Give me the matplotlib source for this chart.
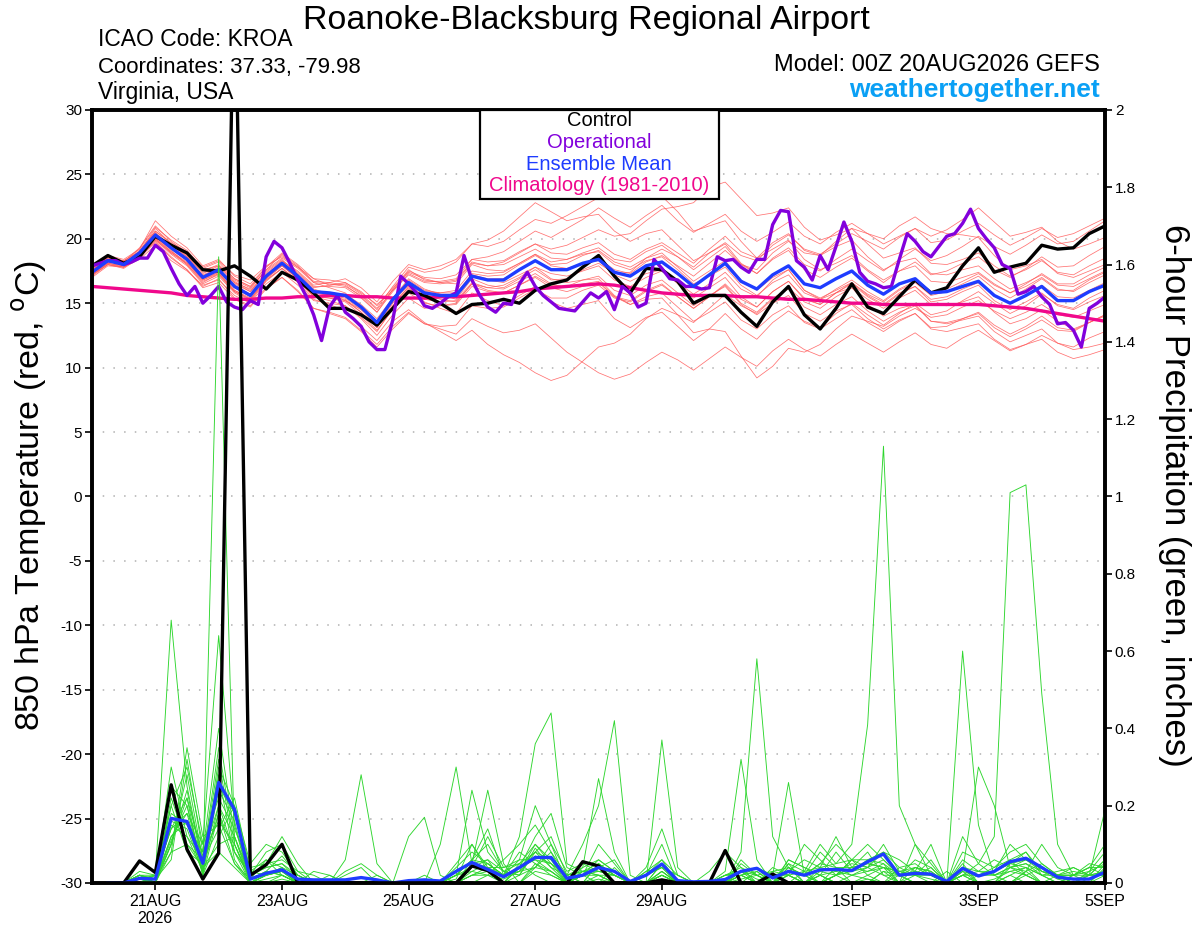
import numpy as np
import pandas as pd
import matplotlib
matplotlib.use("Agg")
import matplotlib.pyplot as plt
from matplotlib.patches import Rectangle

plt.rcParams['font.family'] = ['Liberation Sans', 'DejaVu Sans']
plt.rcParams['axes.unicode_minus'] = False

# time axes: 6-hourly for ensemble, 3-hourly for operational run
times = pd.date_range("2026-08-20 00:00", periods=65, freq="6h")
op_times = pd.date_range("2026-08-20 00:00", periods=129, freq="3h")

# 850 hPa temperature (C)
control_t = [17.9, 18.7, 18.1, 18.6, 20.2, 19.5, 18.9, 17.6, 17.5, 17.9,
             17.1, 16.1, 17.4, 16.8, 15.8, 14.6, 14.6, 14.1, 13.3, 14.6,
             15.9, 15.6, 15.0, 14.2, 14.9, 15.0, 15.3, 15.0, 16.0, 16.5,
             16.8, 17.8, 18.7, 17.1, 15.8, 17.7, 17.6, 16.7, 15.0, 15.6,
             15.6, 14.3, 13.2, 15.1, 16.3, 14.1, 13.0, 14.6, 16.5, 14.7,
             14.2, 15.5, 16.8, 15.8, 16.2, 17.9, 19.3, 17.4, 17.8, 18.1,
             19.5, 19.2, 19.3, 20.4, 21.0]

mean_t = [17.4, 18.3, 18.0, 18.9, 20.3, 19.3, 18.4, 17.0, 17.6, 16.3,
          15.6, 17.1, 18.1, 17.1, 15.9, 15.8, 15.6, 14.7, 13.5, 15.3,
          16.6, 15.8, 15.6, 15.6, 17.1, 16.8, 16.8, 17.6, 18.3, 17.6,
          17.6, 18.1, 18.4, 17.4, 17.1, 17.9, 18.2, 17.3, 16.3, 17.2,
          18.1, 16.7, 16.1, 17.2, 17.9, 16.5, 16.2, 16.9, 17.5, 16.4,
          15.7, 16.5, 16.9, 15.8, 15.9, 16.3, 16.7, 15.6, 15.0, 15.6,
          16.3, 15.2, 15.2, 15.9, 16.4]

clim_t = [16.3, 16.2, 16.1, 16.0, 15.9, 15.8, 15.6, 15.5, 15.4,
          15.3, 15.3, 15.4, 15.4, 15.5, 15.5, 15.6, 15.6,
          15.5, 15.5, 15.4, 15.4, 15.4, 15.5, 15.5, 15.6,
          15.7, 15.8, 15.9, 16.1, 16.2, 16.3, 16.4, 16.5,
          16.4, 16.2, 16.0, 15.8, 15.7, 15.6, 15.6, 15.6,
          15.5, 15.5, 15.4, 15.3, 15.3, 15.2, 15.1, 15.0,
          15.0, 14.9, 14.9, 14.9, 14.9, 14.9, 14.9, 14.9,
          14.8, 14.7, 14.6, 14.4, 14.2, 14.0, 13.8, 13.6]

oper_t = [17.9, 18.1, 18.3, 18.3, 18.0, 18.2, 18.5, 18.5, 19.5, 19.0,
          17.7, 16.5, 15.6, 16.3, 15.0, 15.6, 16.3, 15.1, 14.7, 14.5,
          15.2, 14.9, 18.6, 19.8, 19.3, 18.1, 16.8, 15.6, 14.1, 12.1,
          14.7, 15.6, 14.3, 13.8, 13.2, 12.0, 11.4, 11.4, 13.7, 17.1,
          16.5, 15.8, 14.8, 14.6, 15.0, 15.5, 15.8, 18.7, 16.8, 15.6,
          14.7, 14.3, 15.0, 14.9, 16.5, 17.4, 16.3, 15.6, 15.1, 14.6,
          14.5, 14.4, 15.1, 15.8, 15.4, 15.9, 14.5, 16.3, 15.8, 14.7,
          15.0, 18.4, 17.7, 16.9, 16.8, 16.3, 16.3, 16.1, 16.2, 18.6,
          18.3, 18.4, 17.8, 17.4, 18.4, 18.4, 21.1, 22.2, 22.1, 18.3,
          17.8, 16.8, 18.7, 17.6, 19.4, 21.3, 19.8, 17.4, 16.7, 16.5,
          16.2, 16.3, 18.4, 20.4, 19.8, 19.0, 18.6, 19.4, 20.2, 20.4,
          21.2, 22.3, 20.8, 20.0, 19.3, 18.0, 17.7, 15.7, 15.9, 16.3,
          15.5, 14.9, 13.4, 13.5, 12.9, 11.6, 14.6, 15.0, 15.5]

members_t = [
    "17.6 18.5 18.2 19.3 21.0 19.8 18.9 17.8 18.3 17.2 16.8 17.9 18.6 17.8 16.9 16.4 16.6 15.8 14.9 16.0 "
    "17.5 17.0 16.9 17.2 18.4 18.6 19.0 19.8 20.6 20.1 20.8 21.5 22.4 21.6 20.9 21.8 22.6 21.4 20.5 21.2 "
    "21.9 20.6 19.8 20.5 21.3 20.2 19.6 20.5 21.2 20.4 19.6 20.2 20.8 19.7 19.9 20.6 21.2 20.3 19.5 20.1 "
    "20.8 20.1 20.4 21.0 21.6",
    "17.2 18.0 17.7 18.5 19.8 18.6 17.6 16.3 16.9 15.4 14.8 16.2 17.0 16.0 14.6 14.3 13.9 12.9 11.8 13.2 "
    "14.3 13.4 13.0 12.6 13.8 13.2 12.7 12.9 13.4 12.3 11.2 10.4 9.6 9.1 9.5 10.4 11.2 10.6 9.8 10.7 "
    "11.6 10.8 10.1 11.3 12.2 11.4 10.9 11.8 12.6 11.9 11.2 12.0 12.7 11.8 11.5 12.3 12.9 12.1 11.3 11.8 "
    "12.5 11.9 11.6 12.3 12.8",
    "17.8 18.6 18.3 19.0 20.8 19.6 18.8 17.6 17.9 16.8 16.2 17.6 18.8 17.9 16.6 16.2 15.8 14.6 13.2 15.0 "
    "16.2 15.1 14.6 14.2 15.8 15.2 14.8 15.6 16.3 15.1 14.6 14.9 15.2 13.8 13.1 13.9 14.3 13.2 12.1 13.0 "
    "14.2 13.0 12.2 13.5 14.4 13.6 13.1 14.2 15.0 14.1 13.3 14.2 15.0 14.1 14.4 15.2 15.9 15.0 14.2 14.8 "
    "15.7 14.9 14.6 15.4 16.0",
    "17.5 18.2 18.1 18.7 20.1 19.0 18.1 16.9 17.4 16.5 15.9 17.4 18.3 17.5 16.4 16.6 16.9 16.2 15.1 16.7 "
    "18.0 17.6 17.9 18.4 19.6 19.4 19.8 20.7 21.5 21.2 21.8 22.5 23.2 23.8 24.5 24.2 23.3 22.1 20.6 21.0 "
    "21.4 19.8 18.5 19.2 19.9 18.4 17.6 18.1 18.7 17.6 16.8 17.5 17.9 16.7 16.6 17.0 17.4 16.5 15.8 16.3 "
    "17.0 16.1 15.9 16.6 17.2",
    "17.0 17.9 17.8 18.4 19.5 18.3 17.5 16.4 16.8 15.6 15.0 16.5 17.4 16.4 15.2 15.0 14.8 13.8 12.5 14.1 "
    "15.4 14.6 14.8 15.0 16.5 16.2 16.4 17.0 17.8 17.3 17.1 17.5 17.9 16.8 16.3 17.0 17.5 16.6 15.7 16.5 "
    "17.4 16.1 15.5 16.8 17.6 16.0 15.4 16.0 16.6 15.6 14.9 15.8 16.3 15.1 15.3 15.9 16.4 15.2 14.5 15.1 "
    "15.8 14.8 14.5 15.1 15.6",
    "17.7 18.4 18.0 19.1 20.6 19.7 19.0 17.5 18.0 16.9 16.3 17.5 18.4 17.2 16.1 15.7 15.2 14.5 13.6 15.4 "
    "16.9 16.1 15.7 15.3 16.9 16.4 16.2 16.9 17.6 16.8 16.9 17.6 18.1 17.3 17.4 18.5 19.2 18.6 17.8 18.9 "
    "19.7 18.7 18.3 19.5 20.3 19.2 18.8 19.6 20.4 19.8 19.2 20.1 20.8 20.2 20.7 21.5 22.4 21.3 20.2 20.5 "
    "20.9 19.8 19.2 19.6 20.1",
    "17.3 18.1 17.9 18.8 20.2 19.1 18.0 16.6 17.3 15.9 15.2 16.8 17.7 16.6 15.3 14.9 14.4 13.2 12.1 13.6 "
    "14.5 13.5 12.8 12.1 12.9 11.8 11.0 10.4 9.6 9.0 9.4 10.5 11.6 11.9 12.6 13.8 14.6 14.1 13.5 14.6 "
    "15.7 14.8 14.2 15.3 16.2 15.1 14.6 15.5 16.2 15.3 14.6 15.4 16.0 14.9 14.8 15.1 15.5 14.3 13.4 13.8 "
    "14.5 13.6 13.0 13.5 14.0",
    "17.6 18.4 18.2 18.9 20.4 19.5 18.7 17.3 17.9 16.7 16.0 17.3 18.2 17.3 16.2 16.4 16.5 15.7 14.6 16.3 "
    "17.8 17.4 17.6 18.2 19.6 19.9 20.6 21.7 22.8 22.1 21.4 21.7 21.9 20.6 19.8 20.4 20.7 19.5 18.3 18.9 "
    "19.6 18.1 17.3 18.4 19.1 17.6 17.0 17.8 18.5 17.5 16.6 17.5 18.2 17.2 17.5 18.1 18.6 17.6 17.0 17.7 "
    "18.6 17.8 17.9 18.7 19.4",
    "17.4 18.2 18.0 18.8 20.1 19.2 18.5 17.2 17.7 16.4 15.7 17.0 18.0 16.9 15.6 15.5 15.3 14.3 13.1 14.8 "
    "16.3 15.6 15.5 15.7 17.3 17.1 17.2 18.0 18.7 18.0 18.1 18.7 19.1 18.2 17.8 18.5 18.9 17.8 16.7 17.5 "
    "18.3 16.8 16.0 17.0 17.6 16.0 15.3 15.8 16.2 14.9 14.0 14.6 14.9 13.6 13.4 13.7 14.0 12.8 12.0 12.5 "
    "13.0 11.9 11.4 11.6 11.9",
    "17.1 18.0 17.8 18.6 19.9 18.8 17.9 16.5 17.1 15.8 15.1 16.7 17.7 16.8 15.5 15.2 14.8 13.9 12.8 14.6 "
    "16.0 15.3 15.4 15.7 17.2 16.8 16.6 17.2 17.8 16.9 16.6 16.8 16.9 15.6 14.9 15.3 15.4 14.1 12.7 13.0 "
    "12.8 10.9 9.2 10.1 11.5 11.2 11.8 13.0 14.0 13.6 13.2 14.0 14.6 13.9 14.1 14.7 15.2 14.4 13.8 14.3 "
    "14.9 14.1 13.9 14.4 14.9",
    "17.9 18.7 18.4 19.2 21.4 20.2 19.3 17.9 18.4 17.1 16.5 17.8 18.9 18.0 16.9 16.8 16.6 15.9 14.8 16.2 "
    "17.4 16.9 16.6 16.8 18.2 17.9 18.2 18.9 19.6 19.2 19.5 20.1 20.7 20.2 20.4 21.4 22.3 22.5 22.8 24.0 "
    "24.4 23.1 21.8 22.0 22.4 20.9 19.9 20.3 20.8 19.6 18.5 18.9 19.3 18.1 18.0 18.4 18.9 17.9 17.1 17.6 "
    "18.3 17.4 17.2 17.9 18.5",
    "17.3 18.3 18.1 18.9 20.0 18.9 18.0 16.7 17.2 15.9 15.3 16.9 17.9 16.9 15.8 15.8 15.5 14.6 13.4 15.1 "
    "16.4 15.7 15.3 15.1 16.5 16.0 15.8 16.4 17.0 16.2 15.9 16.3 16.6 15.5 15.2 16.0 16.5 15.5 14.6 15.5 "
    "16.4 15.0 14.3 15.4 16.1 14.7 14.1 14.9 15.5 14.4 13.6 14.3 14.8 13.6 13.5 13.8 14.2 13.1 12.4 13.0 "
    "13.7 12.9 12.8 13.5 14.1",
    "17.5 18.4 18.1 19.0 20.5 19.4 18.6 17.4 17.6 16.6 16.1 17.6 18.5 17.7 16.6 16.5 16.3 15.6 14.5 16.0 "
    "17.2 16.6 16.5 16.7 18.1 17.9 18.0 18.6 19.2 18.5 18.4 18.8 19.0 18.0 17.6 18.3 18.6 17.6 16.5 17.1 "
    "17.8 16.4 15.6 16.6 17.2 15.8 15.3 16.1 16.8 15.9 15.2 16.1 16.7 15.8 16.1 16.7 17.3 16.4 15.8 16.5 "
    "17.3 16.5 16.5 17.2 17.8",
    "17.8 18.5 18.3 19.0 20.6 19.6 18.6 17.1 17.8 16.6 15.9 17.2 18.0 17.0 15.8 15.6 15.4 14.5 13.3 15.2 "
    "16.7 15.9 15.8 16.0 17.5 17.3 17.4 18.1 18.8 18.2 18.4 18.9 19.3 18.4 18.2 19.0 19.5 18.6 17.6 18.5 "
    "19.4 18.0 17.3 18.5 19.3 18.0 17.5 18.4 19.2 18.3 17.5 18.4 19.2 18.3 18.7 19.4 20.2 19.4 18.8 19.5 "
    "20.3 19.6 19.8 20.6 21.4",
    "17.2 18.1 17.9 18.7 20.0 19.0 18.2 16.8 17.4 16.0 15.4 16.9 17.9 16.9 15.6 15.4 15.1 14.1 12.9 14.5 "
    "15.8 15.0 14.8 14.9 16.3 15.9 15.8 16.4 17.1 16.4 16.3 16.8 17.1 16.0 15.6 16.4 16.8 15.8 14.8 15.6 "
    "16.3 14.9 14.1 15.0 15.6 14.2 13.6 14.4 14.9 13.8 13.0 13.7 14.2 13.0 12.8 13.1 13.4 12.2 11.4 11.8 "
    "12.2 11.2 10.7 11.0 11.4",
    "17.6 18.3 18.0 18.8 20.3 19.3 18.5 17.1 17.6 16.2 15.5 17.1 18.3 17.4 16.3 16.3 16.2 15.4 14.3 15.9 "
    "17.3 16.7 16.7 16.9 18.4 18.2 18.3 19.0 19.6 18.9 18.8 19.3 19.7 18.8 18.4 19.2 19.7 18.9 18.1 19.2 "
    "20.2 19.0 18.5 19.7 20.4 19.1 18.7 19.4 19.9 18.6 17.6 18.2 18.5 17.3 17.2 17.6 17.9 16.9 16.1 16.6 "
    "17.2 16.4 16.3 16.9 17.5",
    "17.3 18.1 17.8 18.6 19.7 18.5 17.6 16.2 16.6 15.3 14.7 16.1 17.0 15.9 14.6 14.2 13.8 12.8 11.6 13.0 "
    "14.2 13.4 13.2 13.3 14.8 14.6 14.7 15.4 16.1 15.4 15.4 16.0 16.4 15.4 15.1 15.9 16.4 15.5 14.6 15.5 "
    "16.5 15.3 14.7 15.9 16.7 15.4 14.9 15.8 16.5 15.5 14.8 15.7 16.3 15.3 15.5 16.1 16.6 15.6 15.0 15.6 "
    "16.4 15.5 15.4 16.0 16.6",
    "17.7 18.6 18.2 19.2 20.9 19.9 19.1 17.7 18.2 16.9 16.3 17.8 18.7 17.8 16.7 16.6 16.4 15.5 14.3 16.1 "
    "17.6 16.8 16.6 16.5 18.0 17.6 17.5 18.1 18.8 17.9 17.7 18.1 18.3 17.2 16.7 17.3 17.6 16.5 15.4 16.2 "
    "17.0 15.5 14.7 15.9 16.7 15.3 14.9 15.8 16.6 15.7 15.1 16.0 16.6 15.6 15.9 16.5 17.1 16.1 15.4 16.1 "
    "16.9 16.0 16.0 16.8 17.4",
    "17.5 18.4 18.1 18.9 20.3 19.2 18.3 16.9 17.5 16.2 15.6 17.2 18.1 17.1 15.9 15.8 15.7 14.9 13.8 15.4 "
    "16.8 16.0 15.8 15.8 17.2 16.9 16.9 17.6 18.3 17.6 17.6 18.1 18.5 17.6 17.3 18.2 18.7 17.9 17.1 18.1 "
    "19.1 18.0 17.6 18.9 19.8 18.9 18.7 19.8 20.8 20.4 20.0 21.0 21.7 20.8 20.4 20.3 20.1 18.7 17.6 17.9 "
    "18.4 17.3 17.0 17.5 18.0",
    "17.2 18.0 17.8 18.6 19.9 18.9 18.1 16.8 17.3 16.0 15.3 16.8 17.7 16.7 15.5 15.4 15.2 14.3 13.1 14.8 "
    "16.1 15.3 15.1 15.2 16.6 16.2 16.1 16.7 17.3 16.5 16.2 16.5 16.7 15.5 14.9 15.5 15.8 14.7 13.6 14.3 "
    "15.1 13.7 13.0 14.1 14.8 13.5 13.0 13.8 14.5 13.5 12.8 13.6 14.2 13.1 13.2 13.8 14.3 13.3 12.6 13.2 "
    "14.0 13.1 12.9 13.5 14.1",
]

# 6-hour precipitation (inches), from 06Z 20AUG onward
control_p = [0, 0, 0.057, 0.027, 0.254, 0.087, 0.01, 0.077,
             2.45, 0.02, 0.047, 0.10, 0, 0, 0, 0,
             0, 0, 0, 0, 0, 0, 0, 0.044,
             0.032, 0, 0, 0, 0, 0, 0.055, 0.044,
             0, 0, 0, 0.008, 0, 0, 0, 0.084,
             0, 0, 0.023, 0, 0, 0, 0, 0,
             0, 0, 0, 0, 0, 0, 0, 0,
             0, 0, 0, 0, 0, 0, 0, 0]

mean_p = [0, 0, 0.012, 0.01, 0.167, 0.159, 0.051, 0.26,
          0.19, 0.01, 0.025, 0.034, 0.01, 0.008, 0.008, 0.008,
          0.014, 0.008, 0, 0.006, 0.008, 0.005, 0.03, 0.053,
          0.035, 0.016, 0.04, 0.066, 0.066, 0.012, 0.02, 0.04,
          0.03, 0.004, 0.02, 0.049, 0.006, 0.003, 0.004, 0.009,
          0.03, 0.038, 0.013, 0.03, 0.02, 0.034, 0.035, 0.032,
          0.055, 0.075, 0.02, 0.025, 0.023, 0.004, 0.038, 0.018,
          0.03, 0.055, 0.064, 0.04, 0.015, 0.01, 0.01, 0.028]

members_p = [
    "0 0 0.02 0.01 0.12 0.18 0.03 1.62 0.10 0 0.02 0.03 0 0 0 0 0 0 0 0 0 0 0 0.02 "
    "0.04 0 0 0.05 0.02 0 0 0.01 0 0 0 0.02 0 0 0 0 0.03 0.01 0 0 0 0.02 0 0 "
    "0.01 0 0 0 0 0 0.03 0 0 0 0.02 0 0 0 0 0",
    "0 0 0.01 0.02 0.68 0.25 0.05 0.18 0.08 0.02 0.05 0.06 0.03 0 0 0 0 0 0 0 0 0 0.05 0.10 "
    "0.03 0 0.02 0.08 0.12 0.02 0 0.05 0.02 0 0 0.05 0 0 0 0 0 0 0 0.05 0.03 0 0.02 0.06 "
    "0.02 0.04 0 0.02 0.01 0 0.02 0 0.01 0.03 0.04 0.02 0 0 0 0.04",
    "0 0 0 0.01 0.20 0.30 0.10 0.64 0.15 0 0 0.01 0 0 0 0 0 0 0 0 0 0 0 0 "
    "0 0 0.05 0.02 0 0 0.03 0.02 0 0 0.02 0.04 0 0 0 0 0 0 0 0.02 0 0.04 0.05 0.10 "
    "0.41 1.13 0.20 0.10 0.02 0 0.05 0 0 0.02 0.04 0 0 0 0 0",
    "0 0 0.02 0 0.10 0.22 0.02 0.30 0.20 0.05 0.10 0.08 0.02 0 0 0 0 0 0 0 0.02 0 0 0.03 "
    "0.05 0.02 0.03 0.10 0.05 0 0.02 0.04 0.06 0 0 0.02 0 0 0 0 0.02 0 0 0 0 0 0.02 0 "
    "0 0 0 0 0 0 0.02 0.05 0.12 1.01 1.03 0.49 0.10 0.02 0.02 0.06",
    "0 0 0 0 0.15 0.12 0.03 0.20 0.08 0 0.03 0.02 0 0 0 0.06 0.28 0.05 0 0 0 0 0 0 "
    "0 0 0 0.04 0.10 0 0.02 0.06 0.03 0 0 0.03 0 0 0 0 0.08 0.58 0.12 0.04 0 0.02 0 0 "
    "0 0.03 0 0 0 0 0.04 0 0 0 0.03 0 0 0 0 0.02",
    "0 0 0.03 0.02 0.18 0.15 0.08 0.40 0.12 0.02 0.04 0.05 0.01 0 0 0 0 0 0 0 0 0 0.02 0.06 "
    "0.10 0.03 0.05 0.08 0.06 0 0 0.02 0 0 0.02 0.10 0 0 0 0.02 0.03 0 0 0.06 0.04 0.02 0.08 0.03 "
    "0.06 0.05 0 0.10 0.05 0 0.60 0.15 0.02 0 0.03 0.05 0.02 0 0.03 0.08",
    "0 0 0 0.01 0.08 0.35 0.12 0.15 0.05 0 0.01 0.02 0 0 0 0 0 0 0 0.12 0.17 0.02 0 0 "
    "0.02 0 0.04 0.06 0.05 0.02 0.10 0.20 0.42 0.02 0 0.37 0.04 0 0 0 0 0.03 0 0.05 0 0 0 0.02 "
    "0.01 0 0.02 0 0 0 0 0 0 0.04 0.02 0 0 0 0 0",
    "0 0 0.01 0 0.22 0.10 0.04 0.25 0.18 0.03 0.02 0.04 0 0 0 0 0 0 0 0 0 0 0.04 0.08 "
    "0.05 0.02 0.12 0.36 0.44 0.05 0.03 0.02 0 0 0 0.02 0 0 0 0.03 0.32 0.06 0 0.02 0 0.02 0 0 "
    "0 0.03 0.02 0 0 0.03 0 0 0 0.02 0 0 0.02 0 0 0.05",
    "0 0 0.02 0.01 0.10 0.28 0.06 0.35 0.10 0.01 0.06 0.04 0.02 0 0 0 0 0 0 0 0 0.10 0.30 0.05 "
    "0.24 0.05 0 0.03 0.02 0 0.04 0.27 0.08 0 0 0.02 0 0 0.03 0.08 0.04 0 0.02 0.26 0.02 0 0.04 0 "
    "0.02 0 0.04 0.02 0 0 0 0.02 0.04 0.06 0.02 0 0 0.02 0 0",
    "0 0 0 0.02 0.25 0.20 0.02 0.12 0.20 0.02 0.08 0.10 0.03 0.02 0 0 0 0 0 0 0 0 0.02 0.24 "
    "0.08 0.03 0.02 0.04 0.08 0.02 0 0.05 0.02 0 0 0.05 0 0 0 0 0.02 0.04 0 0 0.03 0.10 0.05 0.06 "
    "0.04 0.08 0.06 0.03 0.10 0 0.02 0 0 0.05 0.08 0.02 0 0.02 0.04 0.02",
    "0 0 0.01 0.01 0.30 0.12 0.06 0.28 0.06 0 0 0.02 0 0.03 0.02 0 0 0.02 0 0 0 0 0 0.02 "
    "0.02 0.06 0.10 0.15 0.08 0 0.02 0 0.04 0 0.03 0.06 0.02 0 0 0 0 0 0.04 0.02 0.10 0.06 0.02 0.04 "
    "0.08 0.02 0 0.04 0.03 0 0.03 0.30 0.20 0.04 0.06 0.03 0.02 0.04 0.02 0.19",
    "0 0 0.02 0.02 0.14 0.18 0.10 0.22 0.14 0.04 0.05 0.12 0.05 0 0.02 0 0 0 0 0 0 0 0.02 0.04 "
    "0.12 0.04 0.06 0.20 0.10 0.03 0.05 0.03 0.02 0 0.02 0.04 0.02 0 0 0 0.05 0.02 0 0.04 0.02 0.08 0.04 0.02 "
    "0.04 0.06 0.02 0.06 0.04 0 0.04 0.02 0.03 0.10 0.06 0.04 0.02 0 0.02 0.03",
    "0 0 0 0 0.10 0.24 0.04 0.10 0.12 0 0.02 0.03 0.01 0 0 0 0 0 0 0 0 0 0 0.06 "
    "0.14 0.02 0.08 0.05 0.03 0 0.02 0.10 0.05 0 0 0.03 0 0 0 0 0.06 0.02 0 0.03 0.06 0.04 0.12 0.04 "
    "0.05 0.04 0.03 0.02 0.06 0 0.12 0.05 0.02 0.04 0.03 0.10 0.04 0.02 0.04 0.10",
    "0 0 0.01 0 0.12 0.16 0.02 0.18 0.05 0.01 0.03 0.07 0.02 0 0 0.03 0.05 0.02 0 0 0 0 0.03 0.05 "
    "0.06 0 0.04 0.12 0.18 0.04 0.02 0.04 0.03 0 0.04 0.14 0.02 0 0 0 0.02 0 0.03 0.02 0 0 0.02 0.06 "
    "0.10 0.06 0.02 0.02 0.04 0 0.08 0.06 0.04 0.08 0.10 0.05 0.02 0.03 0.02 0.02",
    "0 0 0.02 0.01 0.06 0.32 0.08 0.16 0.10 0.01 0.02 0.03 0 0 0 0 0 0 0 0 0 0 0.01 0.10 "
    "0.04 0.04 0.05 0.10 0.06 0.02 0.03 0.05 0.02 0 0 0.03 0 0 0 0.02 0.04 0.02 0 0.06 0.04 0.02 0.03 0.02 "
    "0.03 0.04 0.02 0.03 0.02 0 0.04 0.02 0.03 0.05 0.04 0.02 0.03 0.04 0.02 0.06",
    "0 0 0 0.02 0.20 0.08 0.05 0.32 0.08 0.02 0.04 0.05 0.02 0 0 0.02 0.04 0 0 0 0 0 0 0.02 "
    "0.03 0.02 0.03 0.07 0.05 0.02 0.04 0.06 0.03 0 0.02 0.05 0 0 0 0 0.03 0.04 0.02 0.03 0.02 0.05 0.10 0.06 "
    "0.06 0.08 0.04 0.05 0.02 0 0.06 0.03 0.06 0.04 0.05 0.03 0.02 0.02 0.05 0.04",
    "0 0 0.01 0.01 0.16 0.14 0.03 0.24 0.16 0 0.02 0.04 0 0 0 0 0 0 0 0 0 0 0.02 0.03 "
    "0.02 0.01 0.03 0.04 0.03 0 0.02 0.03 0.02 0 0 0.02 0 0 0 0 0.02 0.03 0 0.02 0 0.03 0.02 0.03 "
    "0.04 0.10 0.03 0.02 0.02 0 0.02 0.02 0.03 0.06 0.08 0.03 0.01 0 0.02 0.03",
    "0 0 0.02 0 0.08 0.10 0.06 0.14 0.22 0.03 0.06 0.02 0 0 0 0 0 0 0 0 0 0 0 0.04 "
    "0.06 0.03 0.02 0.09 0.04 0 0.03 0.04 0 0 0.02 0.06 0 0 0 0 0.01 0.02 0 0.04 0.02 0 0.02 0.04 "
    "0.03 0.05 0.02 0.04 0.03 0 0.02 0.03 0.02 0.04 0.05 0.02 0.02 0.02 0.03 0.05",
    "0 0 0 0.01 0.11 0.20 0.04 0.08 0.04 0 0.02 0.03 0 0 0 0 0 0 0 0 0 0 0.02 0.06 "
    "0.05 0.02 0.06 0.06 0.03 0 0.02 0.02 0.02 0 0.03 0.04 0 0 0 0.02 0.02 0 0.02 0.02 0.03 0.04 0.03 0.05 "
    "0.04 0.02 0.02 0.03 0.02 0 0.03 0.02 0.02 0.03 0.02 0.04 0.02 0.01 0.02 0.02",
    "0 0 0.01 0.02 0.14 0.22 0.07 0.20 0.12 0.01 0.03 0.02 0 0 0 0 0 0 0 0 0 0 0.03 0.05 "
    "0.04 0.02 0.04 0.08 0.04 0.02 0.03 0.03 0.03 0 0.02 0.05 0 0 0 0.02 0.03 0.02 0.03 0.04 0.02 0.05 0.04 0.04 "
    "0.05 0.04 0.03 0.04 0.02 0 0.04 0.03 0.03 0.05 0.06 0.04 0.02 0.02 0.04 0.04",
]

tick_dates = pd.to_datetime(["2026-08-21", "2026-08-23", "2026-08-25", "2026-08-27",
                             "2026-08-29", "2026-09-01", "2026-09-03", "2026-09-05"])
tick_labels = ["21AUG\n2026", "23AUG", "25AUG", "27AUG", "29AUG", "1SEP", "3SEP", "5SEP"]

C_OPER = '#8200dc'
C_MEAN = '#1e3cff'
C_CLIM = '#f0088c'
C_RED = '#ff5a5a'
C_GREEN = '#2ed62e'

fig = plt.figure(figsize=(12, 9.27), dpi=100)
ax = fig.add_axes([0.0767, 0.0475, 0.8442, 0.8339])
ax2 = ax.twinx()

# temperature
for s in members_t:
    ax.plot(times, np.array(s.split(), float), color=C_RED, lw=0.55, alpha=0.85)
ax.plot(times, clim_t, color=C_CLIM, lw=2.4)
ax.plot(times, control_t, color='black', lw=2.4)
ax.plot(op_times, oper_t, color=C_OPER, lw=2.4)
ax.plot(times, mean_t, color=C_MEAN, lw=2.4)

# precipitation
for s in members_p:
    ax2.plot(times[1:], np.array(s.split(), float), color=C_GREEN, lw=0.65)
ax2.plot(times[1:], control_p, color='black', lw=2.4)
ax2.plot(times[1:], mean_p, color=C_MEAN, lw=2.4)

ax.set_xlim(times[0], times[-1])
ax.set_ylim(-30, 30)
ax2.set_ylim(0, 2)

ax.set_yticks(np.arange(-30, 31, 5))
ax2.set_yticks(np.arange(0, 2.01, 0.2))
ax2.set_yticklabels(['%g' % v for v in np.round(np.arange(0, 2.01, 0.2), 1)])
ax.set_xticks(tick_dates)
ax.set_xticklabels(tick_labels)

for y in range(-25, 30, 5):
    ax.axhline(y, color='#b0b0b0', lw=1.1, ls=(0, (1, 6)), zorder=0)

ax.tick_params(axis='y', direction='out', length=5, width=1.2, labelsize=11, pad=2)
ax.tick_params(axis='x', direction='out', length=5, width=1.2, labelsize=11.5, pad=3)
ax2.tick_params(axis='y', direction='out', length=5, width=1.2, labelsize=11, pad=2)
for a in (ax, ax2):
    for sp in a.spines.values():
        sp.set_linewidth(2.6)

# axis titles
fig.text(30 / 1200, 1 - 495 / 927, "850 hPa Temperature (red, $^{\\mathrm{o}}$C)",
         rotation=90, ha='center', va='center', fontsize=24.5)
fig.text(1175 / 1200, 1 - 495 / 927, "6-hour Precipitation (green, inches)",
         rotation=-90, ha='center', va='center', fontsize=25)

# header
fig.text(586 / 1200, 1 - 29.5 / 927, "Roanoke-Blacksburg Regional Airport",
         ha='center', va='baseline', fontsize=24.5)
fig.text(98 / 1200, 1 - 46 / 927, "ICAO Code: KROA", ha='left', va='baseline', fontsize=16.5)
fig.text(98 / 1200, 1 - 72.7 / 927, "Coordinates: 37.33, -79.98", ha='left', va='baseline', fontsize=16)
fig.text(98 / 1200, 1 - 99.3 / 927, "Virginia, USA", ha='left', va='baseline', fontsize=16.5)
fig.text(1100 / 1200, 1 - 70.7 / 927, "Model: 00Z 20AUG2026 GEFS", ha='right', va='baseline', fontsize=17)
fig.text(1100 / 1200, 1 - 96.7 / 927, "weathertogether.net", ha='right', va='baseline',
         fontsize=19, fontweight='bold', color='#0aa0f5')

# legend box
fig.add_artist(Rectangle((480 / 1200, 1 - 199 / 927), 239 / 1200, 89 / 927,
                         transform=fig.transFigure, facecolor='white',
                         edgecolor='black', lw=1.6, zorder=10))
legend_items = [("Control", 'black'), ("Operational", C_OPER),
                ("Ensemble Mean", C_MEAN), ("Climatology (1981-2010)", C_CLIM)]
for k, (txt, col) in enumerate(legend_items):
    fig.text(599 / 1200, 1 - (121 + 21.5 * k) / 927, txt, ha='center', va='center',
             fontsize=14.5, color=col, zorder=11)

fig.savefig("out.png", dpi=100)
